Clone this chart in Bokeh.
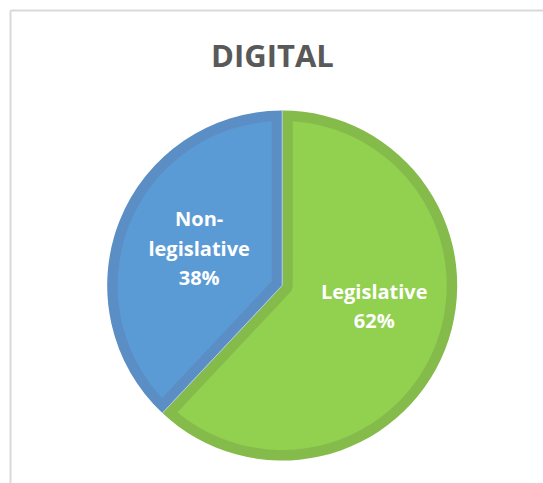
import numpy as np
from bokeh.plotting import figure
from bokeh.models import Range1d
from bokeh.core.properties import value
from bokeh.embed import file_html
from bokeh.resources import INLINE

# ---- data ----
title_text = "DIGITAL"
categories = ["Legislative", "Non-legislative"]
values = [62, 38]
label_lines = [["Legislative"], ["Non-", "legislative"]]

# ---- style ----
fill_colors = ["#92D050", "#5B9BD5"]
edge_colors = ["#84BB4B", "#5A8EC4"]
W, H = 543, 483
CX, CY, R, EDGE = 281.7, 198.0, 175.0, 10.5
LABEL_R = [94.3, 90.9]
LABEL_NUDGE_DEG = [9.0, -2.4]
FONT = "Open Sans"
LABEL_SIZE = 20
TITLE_SIZE = 31
LINE_STEP = 29.5
BASE_FIX = 0.36  # em, renderer baseline correction

p = figure(width=W, height=H, x_range=Range1d(0, W), y_range=Range1d(0, H),
           output_backend="svg", toolbar_location=None, min_border=0,
           x_axis_location=None, y_axis_location=None)
p.grid.visible = False
p.outline_line_color = None
p.background_fill_color = "white"
p.border_fill_color = "white"

# chart-area frame (left and top edges visible)
p.segment(x0=[10, 10], y0=[0, 473], x1=[10, W], y1=[473, 473],
          line_color="#D9D9D9", line_width=2)

vals = np.array(values, dtype=float)
frac = vals / vals.sum()
cum = np.concatenate([[0], np.cumsum(frac)])
starts = np.pi / 2 - 2 * np.pi * cum[:-1]
ends = np.pi / 2 - 2 * np.pi * cum[1:]

# dark outer wedges (edge colour)
p.wedge(x=[CX] * len(vals), y=[CY] * len(vals), radius=R,
        start_angle=list(ends), end_angle=list(starts),
        fill_color=edge_colors, line_color=None)

# inset light polygons
def inset(a0, a1):
    ri = R - EDGE
    dlt = np.arcsin(EDGE / ri)
    arc = np.linspace(a0 - dlt, a1 + dlt, 200)
    xs = list(CX + ri * np.cos(arc))
    ys = list(CY + ri * np.sin(arc))
    span = a0 - a1
    if span < np.pi:
        mid = (a0 + a1) / 2
        rv = EDGE / np.sin(span / 2)
        xs.append(CX + rv * np.cos(mid))
        ys.append(CY + rv * np.sin(mid))
    else:
        carc = np.linspace(a1 + np.pi / 2, a0 - np.pi / 2, 30)
        xs += list(CX + EDGE * np.cos(carc))
        ys += list(CY + EDGE * np.sin(carc))
    return xs, ys

px, py = [], []
for a0, a1 in zip(starts, ends):
    xs, ys = inset(a0, a1)
    px.append(xs)
    py.append(ys)
p.patches(px, py, fill_color=fill_colors, line_color=None)

# thin separators between slices
p.segment(x0=[CX] * len(vals), y0=[CY] * len(vals),
          x1=list(CX + R * np.cos(starts)), y1=list(CY + R * np.sin(starts)),
          line_color="#B4CDE4", line_width=1)

# labels
tx, ty, tt = [], [], []
cap = 0.714 * LABEL_SIZE
for i, (lines, v) in enumerate(zip(label_lines, values)):
    allines = lines + [f"{v}%"]
    mid = (starts[i] + ends[i]) / 2 + np.radians(LABEL_NUDGE_DEG[i])
    lx = CX + LABEL_R[i] * np.cos(mid)
    ly = CY + LABEL_R[i] * np.sin(mid)
    n = len(allines)
    for j, t in enumerate(allines):
        tx.append(lx)
        ty.append(ly + ((n - 1) / 2 - j) * LINE_STEP - cap / 2
                  + BASE_FIX * LABEL_SIZE)
        tt.append(t)
p.text(x=tx, y=ty, text=tt, text_font=value(FONT), text_font_style="bold",
       text_font_size=f"{LABEL_SIZE}px", text_color="white",
       text_align="center", text_baseline="alphabetic")

# title
p.text(x=[272], y=[417 + BASE_FIX * TITLE_SIZE], text=[title_text],
       text_font=value(FONT), text_font_style="bold",
       text_font_size=f"{TITLE_SIZE}px", text_color="#595959",
       text_align="center", text_baseline="alphabetic")

open("out.html", "w").write(file_html(p, INLINE))
